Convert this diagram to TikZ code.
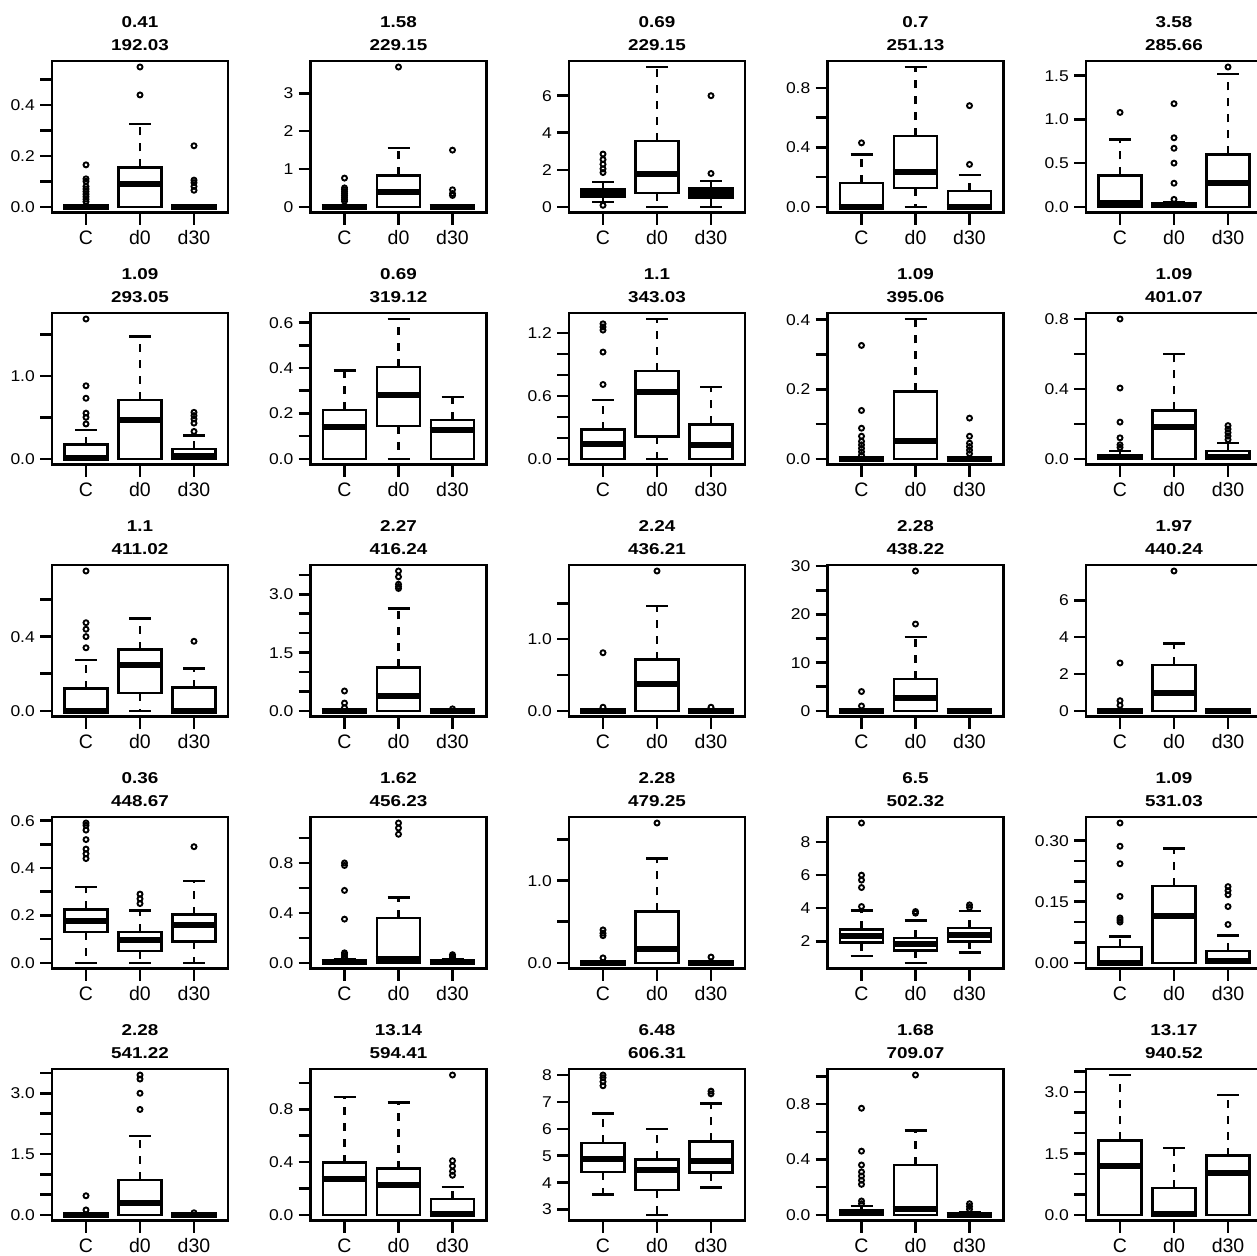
\documentclass[tikz,border=0pt]{standalone}
\usepackage{fontspec}
\setmainfont{Liberation Sans}
\newfontfamily\ttlfont{Liberation Sans}[FakeStretch=1.2]
\newfontfamily\yfont{Liberation Sans}[FakeStretch=1.12]
\tikzset{
 frm/.style={line width=2.5pt},
 bxs/.style={line width=2.5pt},
 wsk/.style={line width=2.5pt, dash pattern=on 8pt off 8pt},
 stp/.style={line width=2.5pt},
 md/.style={line width=6pt},
 olc/.style={line width=1.9pt},
 tk/.style={line width=2.5pt},
 ttl/.style={font=\ttlfont\bfseries\fontsize{15.7}{16}\selectfont, inner sep=0pt, anchor=base},
 ylab/.style={font=\yfont\fontsize{15.6}{16}\selectfont, anchor=base east, inner sep=0pt},
 xlab/.style={font=\fontsize{19.5}{20}\selectfont, inner sep=0pt, anchor=base},
}
\newcommand\pnl[6]{%
 \pgfmathsetmacro\PL{52+258.5*#1}%
 \pgfmathsetmacro\PT{61+252*#2}%
 \pgfmathsetmacro\PB{\PT+151.5}%
 \pgfmathsetmacro\Ks{139.8/((#6)-(#5))}%
 \pgfmathsetmacro\Yz{\PB-5.7+(#5)*\Ks}%
 \node[ttl] (ta#1#2) at (\PL+88,\PT-33.3) {#3};
 \node[ttl] (tb#1#2) at (\PL+88,\PT-10.3) {#4};
 \foreach \xx/\lab in {34/C,88/d0,142/d30} {
   \draw[tk] (\PL+\xx,\PB) -- (\PL+\xx,\PB+12);
   \node[xlab] at (\PL+\xx,\PB+32) {\lab};
 }
}
\newcommand\yt[1]{\foreach \v in {#1} {\draw[tk] (\PL-12,{\Yz-\v*\Ks}) -- (\PL,{\Yz-\v*\Ks});}}
\newcommand\yl[1]{\foreach \v/\s in {#1} {\node[ylab] at (\PL-17,{\Yz-\v*\Ks+5.5}) {\s};}}
\newcommand\bx[6]{%
 \pgfmathsetmacro\cx{\PL+#1}%
 \pgfmathsetmacro\ya{\Yz-(#2)*\Ks}%
 \pgfmathsetmacro\yb{\Yz-(#3)*\Ks}%
 \pgfmathsetmacro\yc{\Yz-(#4)*\Ks}%
 \pgfmathsetmacro\yd{\Yz-(#5)*\Ks}%
 \pgfmathsetmacro\ye{\Yz-(#6)*\Ks}%
 \draw[wsk] (\cx,\yb) -- (\cx,\ya);
 \draw[wsk] (\cx,\yd) -- (\cx,\ye);
 \draw[stp] (\cx-11,\ya) -- (\cx+11,\ya);
 \draw[stp] (\cx-11,\ye) -- (\cx+11,\ye);
 \draw[bxs] (\cx-21.7,\yb) rectangle (\cx+21.7,\yd);
 \draw[md] (\cx-22.9,\yc) -- (\cx+22.9,\yc);
}
\newcommand\olp[2]{\foreach \v in {#2} {\draw[olc] (\PL+#1,{\Yz-\v*\Ks}) circle (2.5);}}
\newcommand\fr{\draw[frm] (\PL,\PT) rectangle (\PL+176,\PB);}
\begin{document}
\begin{tikzpicture}[x=1pt,y=-1pt]
\useasboundingbox (0,0) rectangle (1257,1255);
\fill[white] (0,0) rectangle (1257,1255);
\clip (0,0) rectangle (1257,1255);
% ---------------- row 0
\pnl{0}{0}{0.41}{192.03}{0}{0.55}
\yt{0,0.1,0.2,0.3,0.4,0.5}\yl{0/0.0,0.2/0.2,0.4/0.4}
\bx{34}{0}{0}{0}{0}{0}\olp{34}{0.02,0.03,0.04,0.05,0.06,0.07,0.08,0.1,0.11,0.165}
\bx{88}{0}{0}{0.09}{0.155}{0.325}\olp{88}{0.44,0.55}
\bx{142}{0}{0}{0}{0}{0}\olp{142}{0.065,0.08,0.095,0.105,0.24}
\fr
\pnl{1}{0}{1.58}{229.15}{0}{3.7}
\yt{0,1,2,3}\yl{0/0,1/1,2/2,3/3}
\bx{34}{0}{0}{0}{0}{0}\olp{34}{0.15,0.2,0.25,0.3,0.35,0.4,0.45,0.5,0.76}
\bx{88}{0}{0}{0.38}{0.83}{1.55}\olp{88}{3.7}
\bx{142}{0}{0}{0}{0}{0}\olp{142}{0.3,0.35,0.45,1.5}
\fr
\pnl{2}{0}{0.69}{229.15}{0}{7.55}
\yt{0,2,4,6}\yl{0/0,2/2,4/4,6/6}
\bx{34}{0.25}{0.55}{0.75}{0.95}{1.35}\olp{34}{0.08,1.85,2.05,2.3,2.55,2.85}
\bx{88}{0}{0.75}{1.75}{3.55}{7.55}
\bx{142}{0}{0.5}{0.75}{1.0}{1.4}\olp{142}{1.8,6.0}
\fr
\pnl{3}{0}{0.7}{251.13}{0}{0.94}
\yt{0,0.2,0.4,0.6,0.8}\yl{0/0.0,0.4/0.4,0.8/0.8}
\bx{34}{0}{0}{0}{0.16}{0.35}\olp{34}{0.43}
\bx{88}{0}{0.125}{0.235}{0.476}{0.94}
\bx{142}{0}{0}{0}{0.105}{0.215}\olp{142}{0.285,0.68}
\fr
\pnl{4}{0}{3.58}{285.66}{0}{1.6}
\yt{0,0.5,1,1.5}\yl{0/0.0,0.5/0.5,1/1.0,1.5/1.5}
\bx{34}{0}{0}{0.045}{0.36}{0.77}\olp{34}{1.08}
\bx{88}{0}{0}{0.015}{0.03}{0.055}\olp{88}{0.085,0.27,0.5,0.67,0.79,1.18}
\bx{142}{0}{0}{0.27}{0.6}{1.52}\olp{142}{1.6}
\fr
% ---------------- row 1
\pnl{0}{1}{1.09}{293.05}{0}{1.685}
\yt{0,0.5,1,1.5}\yl{0/0.0,1/1.0}
\bx{34}{0}{0}{0.01}{0.17}{0.35}\olp{34}{0.42,0.5,0.55,0.73,0.88,1.685}
\bx{88}{0}{0}{0.47}{0.71}{1.475}
\bx{142}{0}{0}{0.03}{0.12}{0.28}\olp{142}{0.33,0.43,0.48,0.52,0.56}
\fr
\pnl{1}{1}{0.69}{319.12}{0}{0.616}
\yt{0,0.1,0.2,0.3,0.4,0.5,0.6}\yl{0/0.0,0.2/0.2,0.4/0.4,0.6/0.6}
\bx{34}{0}{0}{0.14}{0.215}{0.39}
\bx{88}{0}{0.145}{0.28}{0.405}{0.616}
\bx{142}{0}{0}{0.127}{0.172}{0.272}
\fr
\pnl{2}{1}{1.1}{343.03}{0}{1.336}
\yt{0,0.2,0.4,0.6,0.8,1.0,1.2}\yl{0/0.0,0.6/0.6,1.2/1.2}
\bx{34}{0}{0}{0.14}{0.28}{0.56}\olp{34}{0.71,1.02,1.23,1.26,1.29}
\bx{88}{0}{0.215}{0.64}{0.84}{1.336}
\bx{142}{0}{0}{0.135}{0.33}{0.685}
\fr
\pnl{3}{1}{1.09}{395.06}{0}{0.402}
\yt{0,0.1,0.2,0.3,0.4}\yl{0/0.0,0.2/0.2,0.4/0.4}
\bx{34}{0}{0}{0}{0}{0}\olp{34}{0.01,0.02,0.03,0.04,0.05,0.065,0.088,0.139,0.326}
\bx{88}{0}{0}{0.05}{0.194}{0.402}
\bx{142}{0}{0}{0}{0}{0}\olp{142}{0.015,0.025,0.035,0.045,0.065,0.117}
\fr
\pnl{4}{1}{1.09}{401.07}{0}{0.8}
\yt{0,0.2,0.4,0.6,0.8}\yl{0/0.0,0.4/0.4,0.8/0.8}
\bx{34}{0}{0}{0.01}{0.02}{0.045}\olp{34}{0.065,0.08,0.12,0.21,0.405,0.8}
\bx{88}{0}{0}{0.18}{0.277}{0.6}
\bx{142}{0}{0}{0.012}{0.045}{0.09}\olp{142}{0.11,0.13,0.15,0.17,0.19}
\fr
% ---------------- row 2
\pnl{0}{2}{1.1}{411.02}{0}{0.754}
\yt{0,0.2,0.4,0.6}\yl{0/0.0,0.4/0.4}
\bx{34}{0}{0}{0}{0.12}{0.275}\olp{34}{0.34,0.4,0.44,0.475,0.754}
\bx{88}{0}{0.095}{0.246}{0.33}{0.497}
\bx{142}{0}{0}{0}{0.125}{0.228}\olp{142}{0.375}
\fr
\pnl{1}{2}{2.27}{416.24}{0}{3.6}
\yt{0,0.5,1,1.5,2,2.5,3,3.5}\yl{0/0.0,1.5/1.5,3/3.0}
\bx{34}{0}{0}{0}{0}{0}\olp{34}{0.08,0.2,0.51}
\bx{88}{0}{0}{0.39}{1.12}{2.64}\olp{88}{3.15,3.2,3.26,3.45,3.6}
\bx{142}{0}{0}{0}{0}{0}\olp{142}{0.05}
\fr
\pnl{2}{2}{2.24}{436.21}{0}{1.95}
\yt{0,0.5,1,1.5}\yl{0/0.0,1/1.0}
\bx{34}{0}{0}{0}{0}{0}\olp{34}{0.05,0.81}
\bx{88}{0}{0}{0.37}{0.715}{1.46}\olp{88}{1.95}
\bx{142}{0}{0}{0}{0}{0}\olp{142}{0.05}
\fr
\pnl{3}{2}{2.28}{438.22}{0}{29}
\yt{0,5,10,15,20,25,30}\yl{0/0,10/10,20/20,30/30}
\bx{34}{0}{0}{0}{0}{0}\olp{34}{1.0,4.0}
\bx{88}{0}{0}{2.6}{6.6}{15.3}\olp{88}{18,29}
\bx{142}{0}{0}{0}{0}{0}
\fr
\pnl{4}{2}{1.97}{440.24}{0}{7.6}
\yt{0,2,4,6}\yl{0/0,2/2,4/4,6/6}
\bx{34}{0}{0}{0}{0}{0}\olp{34}{0.3,0.55,2.6}
\bx{88}{0}{0}{0.95}{2.5}{3.65}\olp{88}{7.6}
\bx{142}{0}{0}{0}{0}{0}
\fr
% ---------------- row 3
\pnl{0}{3}{0.36}{448.67}{0}{0.59}
\yt{0,0.1,0.2,0.3,0.4,0.5,0.6}\yl{0/0.0,0.2/0.2,0.4/0.4,0.6/0.6}
\bx{34}{0}{0.13}{0.175}{0.225}{0.32}\olp{34}{0.44,0.46,0.48,0.52,0.56,0.58,0.59}
\bx{88}{0}{0.05}{0.097}{0.13}{0.22}\olp{88}{0.25,0.27,0.29}
\bx{142}{0}{0.09}{0.16}{0.203}{0.345}\olp{142}{0.49}
\fr
\pnl{1}{3}{1.62}{456.23}{0}{1.12}
\yt{0,0.2,0.4,0.6,0.8,1.0}\yl{0/0.0,0.4/0.4,0.8/0.8}
\bx{34}{0}{0}{0.005}{0.015}{0.03}\olp{34}{0.04,0.055,0.07,0.08,0.35,0.58,0.78,0.8}
\bx{88}{0}{0}{0.03}{0.36}{0.525}\olp{88}{1.03,1.08,1.12}
\bx{142}{0}{0}{0.005}{0.015}{0.03}\olp{142}{0.045,0.055,0.065}
\fr
\pnl{2}{3}{2.28}{479.25}{0}{1.7}
\yt{0,0.5,1,1.5}\yl{0/0.0,1/1.0}
\bx{34}{0}{0}{0}{0}{0}\olp{34}{0.06,0.33,0.36,0.4}
\bx{88}{0}{0}{0.17}{0.625}{1.27}\olp{88}{1.7}
\bx{142}{0}{0}{0}{0}{0}\olp{142}{0.07}
\fr
\pnl{3}{3}{6.5}{502.32}{0.7}{9.15}
\yt{2,4,6,8}\yl{2/2,4/4,6/6,8/8}
\bx{34}{1.1}{1.92}{2.35}{2.72}{3.85}\olp{34}{4.1,5.25,5.7,6.0,9.15}
\bx{88}{0.7}{1.45}{1.82}{2.2}{3.25}\olp{88}{3.7,3.8}
\bx{142}{1.32}{2.0}{2.38}{2.8}{3.82}\olp{142}{4.05,4.2}
\fr
\pnl{4}{3}{1.09}{531.03}{0}{0.343}
\yt{0,0.05,0.1,0.15,0.2,0.25,0.3}\yl{0/0.00,0.15/0.15,0.3/0.30}
\bx{34}{0}{0}{0}{0.039}{0.065}\olp{34}{0.1,0.105,0.11,0.163,0.243,0.286,0.343}
\bx{88}{0}{0}{0.114}{0.188}{0.28}
\bx{142}{0}{0}{0.005}{0.029}{0.067}\olp{142}{0.094,0.138,0.167,0.177,0.187}
\fr
% ---------------- row 4
\pnl{0}{4}{2.28}{541.22}{0}{3.45}
\yt{0,0.5,1,1.5,2,2.5,3,3.5}\yl{0/0.0,1.5/1.5,3/3.0}
\bx{34}{0}{0}{0}{0.02}{0.04}\olp{34}{0.12,0.47}
\bx{88}{0}{0}{0.285}{0.86}{1.94}\olp{88}{2.6,3.0,3.35,3.45}
\bx{142}{0}{0}{0}{0}{0}\olp{142}{0.05}
\fr
\pnl{1}{4}{13.14}{594.41}{0}{1.06}
\yt{0,0.2,0.4,0.6,0.8,1.0}\yl{0/0.0,0.4/0.4,0.8/0.8}
\bx{34}{0}{0}{0.268}{0.395}{0.894}
\bx{88}{0}{0}{0.228}{0.35}{0.85}
\bx{142}{0}{0}{0.01}{0.12}{0.21}\olp{142}{0.3,0.33,0.37,0.41,1.06}
\fr
\pnl{2}{4}{6.48}{606.31}{2.8}{8.0}
\yt{3,4,5,6,7,8}\yl{3/3,4/4,5/5,6/6,7/7,8/8}
\bx{34}{3.55}{4.4}{4.88}{5.47}{6.57}\olp{34}{7.6,7.75,7.9,8.0}
\bx{88}{2.8}{3.73}{4.46}{4.86}{6.0}
\bx{142}{3.82}{4.37}{4.8}{5.53}{6.94}\olp{142}{7.3,7.4}
\fr
\pnl{3}{4}{1.68}{709.07}{0}{1.01}
\yt{0,0.2,0.4,0.6,0.8,1.0}\yl{0/0.0,0.4/0.4,0.8/0.8}
\bx{34}{0}{0}{0.01}{0.03}{0.065}\olp{34}{0.08,0.1,0.22,0.25,0.28,0.31,0.36,0.46,0.77}
\bx{88}{0}{0}{0.043}{0.36}{0.61}\olp{88}{1.01}
\bx{142}{0}{0}{0}{0.01}{0.02}\olp{142}{0.04,0.06,0.08}
\fr
\pnl{4}{4}{13.17}{940.52}{0}{3.42}
\yt{0,0.5,1,1.5,2,2.5,3,3.5}\yl{0/0.0,1.5/1.5,3/3.0}
\bx{34}{0}{0}{1.19}{1.82}{3.42}
\bx{88}{0}{0}{0.02}{0.66}{1.63}
\bx{142}{0}{0}{1.03}{1.45}{2.93}
\fr
\end{tikzpicture}
\end{document}
